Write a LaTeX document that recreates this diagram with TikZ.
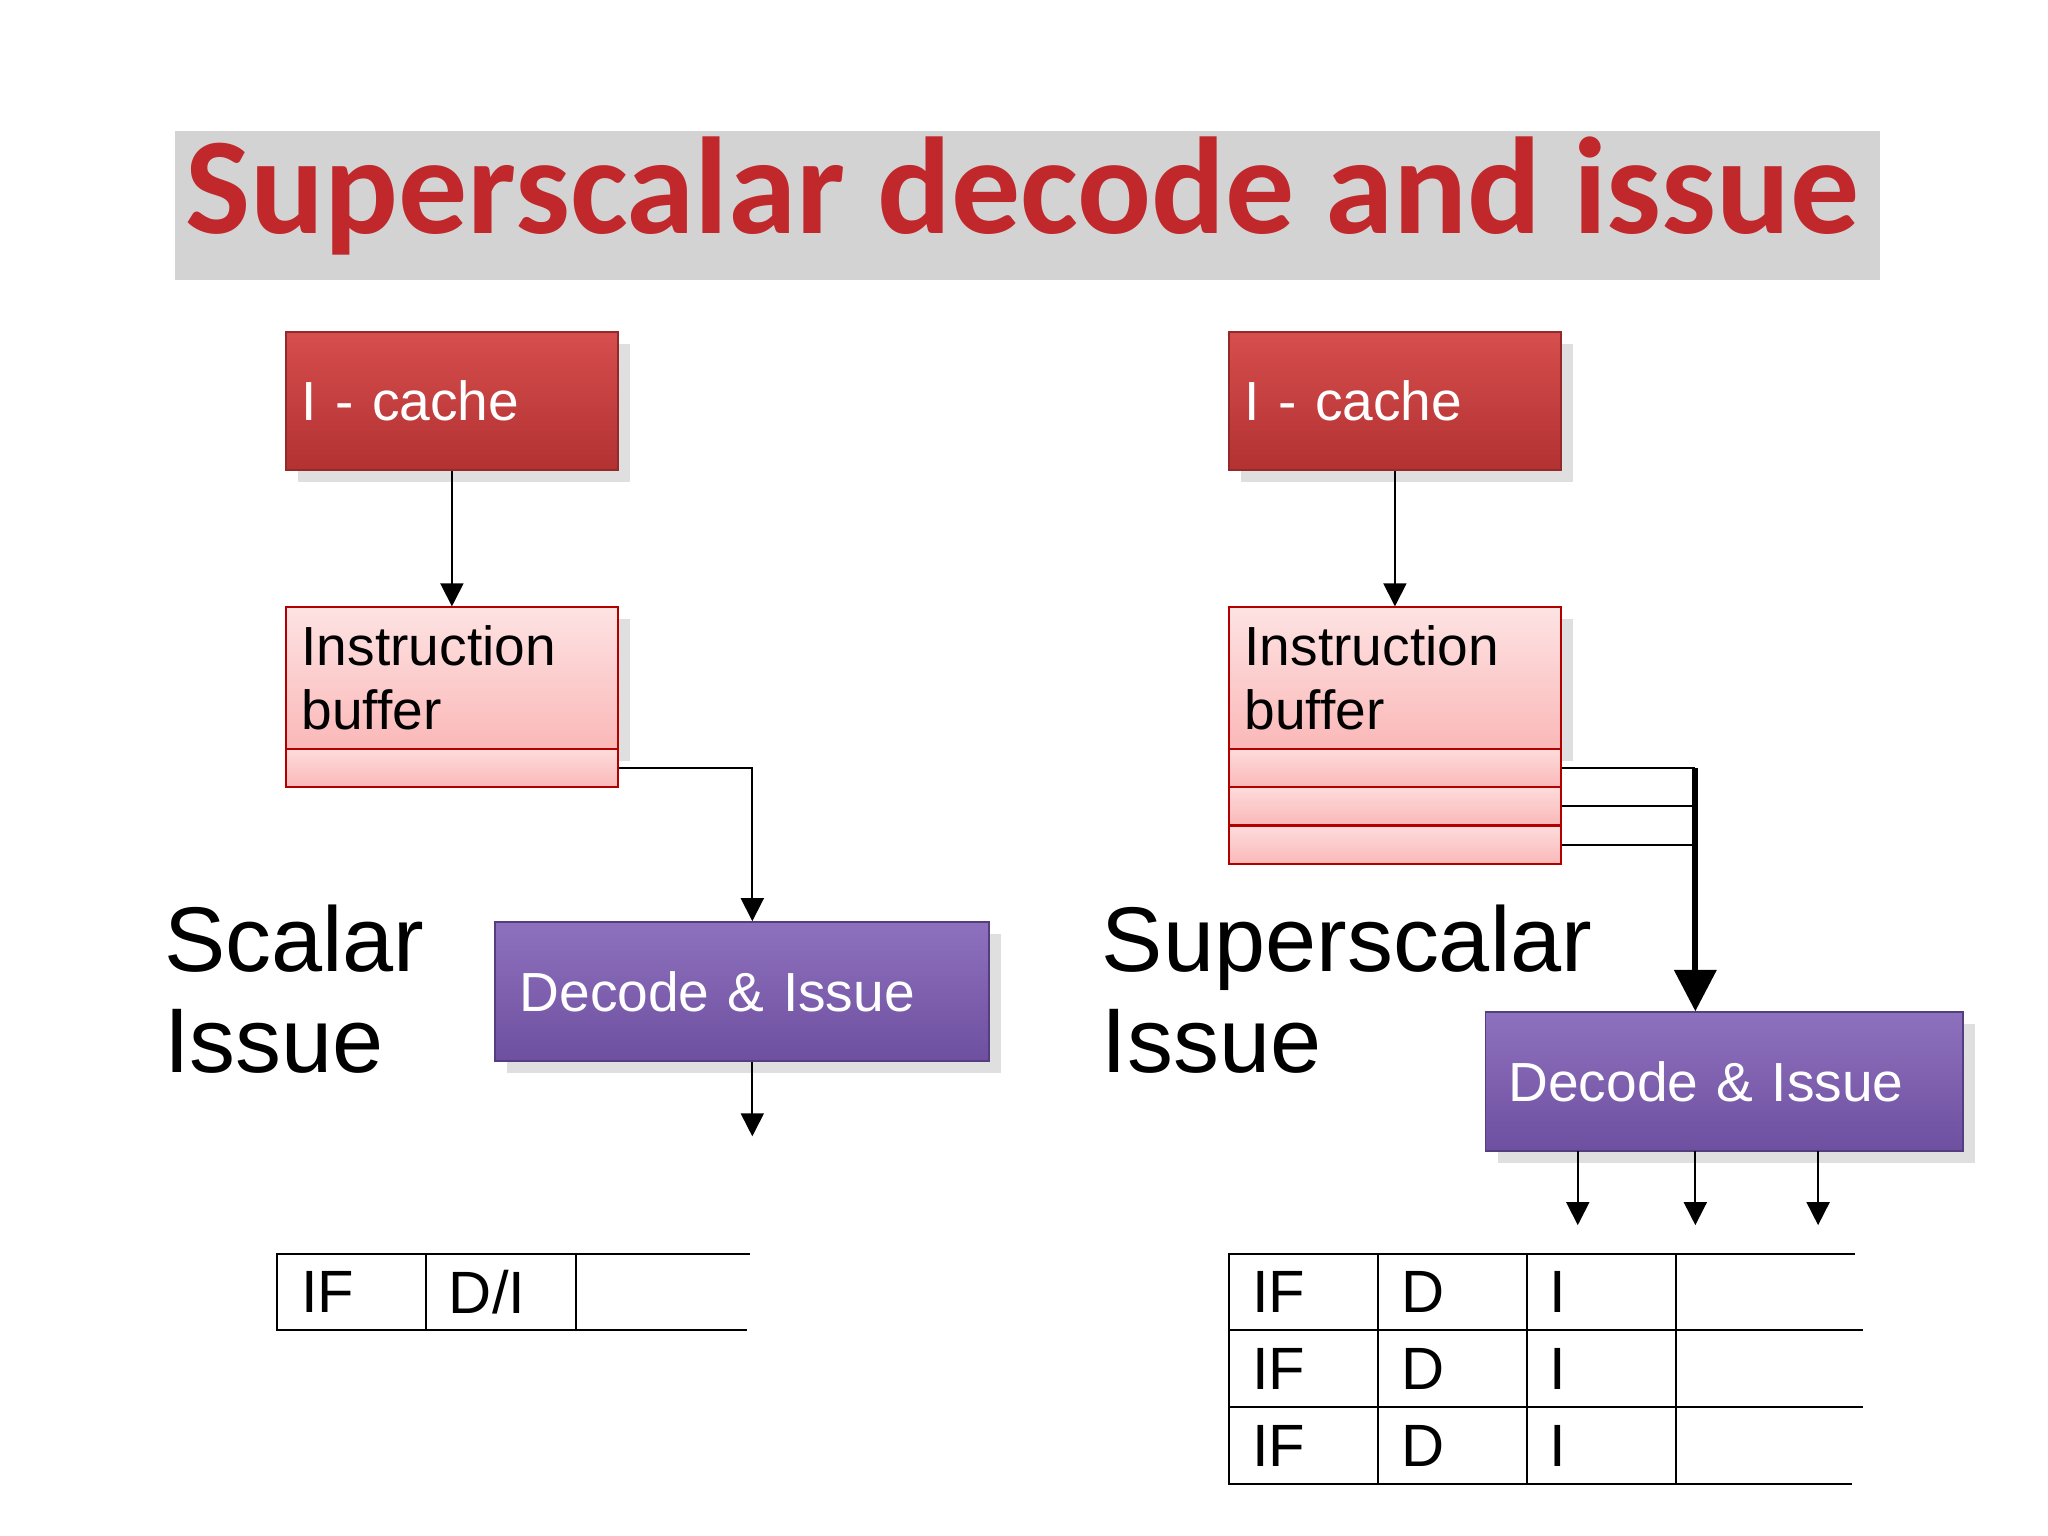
\documentclass[tikz,border=0pt]{standalone}
\usepackage{fontspec}
\setmainfont{Liberation Sans}
\newfontfamily\titlefont{Carlito}
\usetikzlibrary{arrows.meta,shadows}
\definecolor{cachered}{HTML}{D23A3A}
\definecolor{bufpink}{HTML}{FBB8B8}
\definecolor{decpurple}{HTML}{7A58B2}
\definecolor{titlered}{HTML}{C0282C}
\tikzset{
  box/.style={draw, minimum width=2.54cm, text width=2.3cm, align=left, inner sep=0pt, drop shadow={opacity=0.25}},
  cache/.style={box, minimum height=1.06cm, top color=cachered!90!white, bottom color=cachered!85!black, draw=cachered!70!black, text=white, font=\fontsize{12}{14}\selectfont},
  buffer/.style={box, minimum height=1.08cm, top color=bufpink!40!white, bottom color=bufpink, draw=red!70!black, font=\fontsize{12}{14}\selectfont},
  slot/.style={draw=red!70!black, top color=bufpink!50!white, bottom color=bufpink, minimum width=2.54cm, minimum height=0.29cm, inner sep=0pt},
  decode/.style={draw=decpurple!70!black, top color=decpurple!85!white, bottom color=decpurple!90!black, text=white, minimum height=1.06cm, inner sep=0pt, font=\fontsize{12}{14}\selectfont, drop shadow={opacity=0.25}},
  label/.style={align=left, anchor=north west, inner sep=0pt, font=\fontsize{20}{22}\selectfont},
  cell/.style={anchor=west, inner sep=0pt, font=\fontsize{13}{15}\selectfont},
  flow/.style={-{Triangle[length=5pt,width=5pt]}, thin},
}
\begin{document}
\begin{tikzpicture}[x=0.01cm, y=-0.01cm]
    \useasboundingbox (0,0) rectangle (1568,1176);
    \node[font=\titlefont\bfseries\fontsize{30}{32}\selectfont, text=titlered, drop shadow={opacity=0.35, shadow xshift=1pt, shadow yshift=-2pt}] (title) at (783,150) {Superscalar decode and issue};
    % scalar
    \node[cache] (lcache) at (346,307) {I - cache};
    \node[buffer] (lbuf) at (346,519) {Instruction\\buffer};
    \node[slot] (lslot) at (346,588) {};
    \node[decode, minimum width=3.78cm, text width=3.4cm, align=left] (ldec) at (568,759) {Decode \& Issue};
    \coordinate (lturn) at (576,588);
    \coordinate (lout) at (576,870);
    \draw[flow] (lcache) -- (lbuf);
    \draw[flow] (lslot.east) -- (lturn) -- (lturn |- ldec.north);
    \draw[flow] (lturn |- ldec.south) -- (lout);
    \node[label] (lname) at (125,692) {Scalar\\Issue};
    \draw (574,960) -- (212,960) -- (212,1018) -- (572,1018);
    \foreach \x in {326,441} \draw (\x,960) -- (\x,1018);
    \node[cell] (lif) at (230,989) {IF};
    \node[cell] (ldi) at (343,989) {D/I};
    % superscalar
    \node[cache] (rcache) at (1068,307) {I - cache};
    \node[buffer] (rbuf) at (1068,519) {Instruction\\buffer};
    \foreach \i/\y in {1/588,2/617,3/647} {
        \node[slot] (rslot\i) at (1068,\y) {};
        \draw (rslot\i.east) -- (1298,\y);
    }
    \node[decode, minimum width=3.65cm, text width=3.3cm, align=left] (rdec) at (1320,828) {Decode \& Issue};
    \coordinate (rturn) at (1298,588);
    \draw[flow] (rcache) -- (rbuf);
    \draw[-{Triangle[length=9pt,width=9pt]}, line width=1.3pt] (rturn) -- (rturn |- rdec.north);
    \foreach \x in {1208,1298,1392} \draw[flow] (\x,881) -- (\x,938);
    \node[label] (rname) at (843,692) {Superscalar\\Issue};
    \draw (1420,960) -- (941,960) -- (941,1136) -- (1418,1136);
    \foreach \y in {1018,1077} \draw (941,\y) -- (1426,\y);
    \foreach \x in {1055,1169,1283} \draw (\x,960) -- (\x,1136);
    \foreach \y in {989,1048,1107} {
        \node[cell] at (958,\y) {IF};
        \node[cell] at (1072,\y) {D};
        \node[cell] at (1186,\y) {I};
    }
\end{tikzpicture}
\end{document}
